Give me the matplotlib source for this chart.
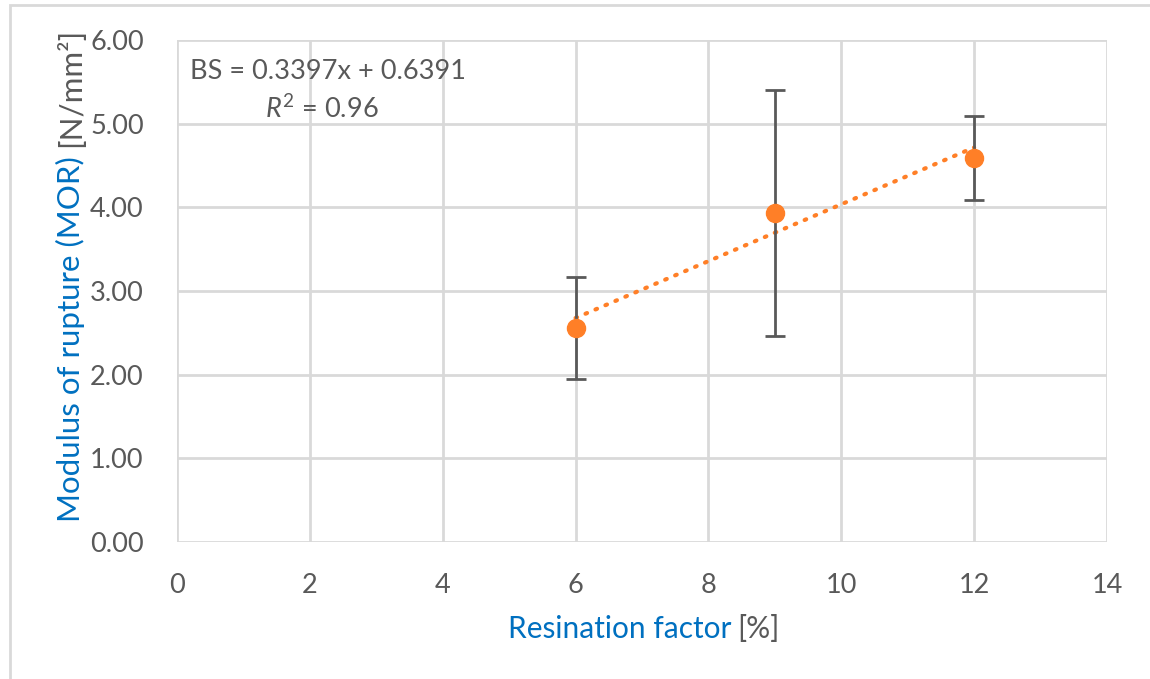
import numpy as np
import matplotlib
matplotlib.use("Agg")
import matplotlib.pyplot as plt
from matplotlib.patches import Rectangle

# data
resination = [6, 9, 12]           # resination factor [%]
mor_mean = [2.56, 3.93, 4.59]     # MOR [N/mm2]
mor_err = [0.61, 1.47, 0.50]      # error bar half-width
slope, intercept = 0.3397, 0.6391 # linear trend shown in the chart
r2 = 0.96

x_ticks = [0, 2, 4, 6, 8, 10, 12, 14]
y_ticks = [0, 1, 2, 3, 4, 5, 6]

gray = "#595959"
blue = "#0070C0"
orange = "#FF7F27"
grid = "#D9D9D9"

plt.rcParams["font.family"] = ["Lato", "DejaVu Sans"]
plt.rcParams["mathtext.fontset"] = "custom"
plt.rcParams["mathtext.rm"] = "Lato"
plt.rcParams["mathtext.it"] = "Lato:italic"

fig = plt.figure(figsize=(11.5, 6.79), dpi=100)
ax = fig.add_axes([0.1539, 0.2018, 0.8087, 0.7393])

# outer frame (only top and left visible)
fig.patches.append(Rectangle((10 / 1150, -0.1), 1.2, 1 - 5 / 679 + 0.1,
                             transform=fig.transFigure, fill=False,
                             edgecolor=grid, linewidth=2))

# error bars + points
ax.errorbar(resination, mor_mean, yerr=mor_err, fmt="none", ecolor=gray,
            elinewidth=2, capsize=7, capthick=2, zorder=3)
ax.plot(resination, mor_mean, "o", color=orange, markersize=13, zorder=4)

# trend line
xt = np.array([resination[0], resination[-1]])
ax.plot(xt, slope * xt + intercept, color=orange, linewidth=3,
        linestyle=(0, (0.4, 2.2)), dash_capstyle="round", zorder=2)

ax.set_xlim(0, 14)
ax.set_ylim(0, 6)
ax.set_xticks(x_ticks)
ax.set_yticks(y_ticks)
ax.set_yticklabels(["%.2f" % v for v in y_ticks])
ax.tick_params(axis="both", length=0, labelsize=19.5, colors=gray)
ax.tick_params(axis="y", pad=24)
ax.tick_params(axis="x", pad=22)
ax.grid(True, color=grid, linewidth=2)
ax.set_axisbelow(True)
for s in ax.spines.values():
    s.set_visible(False)

# trend equation
ax.text(0.2, 5.62, "BS = %.4fx + %.4f" % (slope, intercept),
        fontsize=19.5, color=gray, va="center", ha="left")
ax.text(1.33, 5.17, "$\\mathit{R}^2$ = %.2f" % r2,
        fontsize=19.5, color=gray, va="center", ha="left")

# axis labels, two colours each
renderer = fig.canvas.get_renderer()
inv = fig.transFigure.inverted()

t1 = fig.text(508 / 1150, 1 - 638 / 679, "Resination factor", fontsize=21.5,
              color=blue, ha="left", va="baseline")
bb = t1.get_window_extent(renderer)
fig.text(inv.transform((bb.x1 + 6, 0))[0], 1 - 638 / 679, "[%]",
         fontsize=21.5, color=gray, ha="left", va="baseline")

t2 = fig.text(80 / 1150, 1 - 522 / 679, "Modulus of rupture (MOR)",
              fontsize=22.5, color=blue, rotation=90, rotation_mode="anchor",
              ha="left", va="baseline")
bb = t2.get_window_extent(renderer)
fig.text(80 / 1150, inv.transform((0, bb.y1 + 9))[1], "[N/mm²]",
         fontsize=22.5, color=gray, rotation=90, rotation_mode="anchor",
         ha="left", va="baseline")

fig.savefig("out.png", dpi=100, facecolor="white")
